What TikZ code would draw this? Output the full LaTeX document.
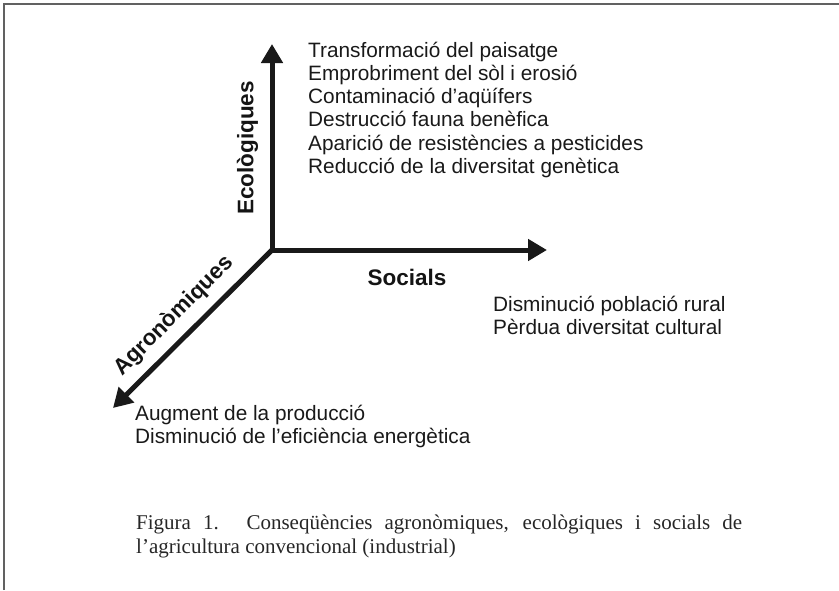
\documentclass[tikz,border=0pt]{standalone}
\usepackage{fontspec}
\setmainfont{Liberation Serif}
\newfontfamily\arialfont{Liberation Sans}
\usetikzlibrary{arrows.meta}
\begin{document}
\begin{tikzpicture}[x=1pt,y=-1pt,
  axisline/.style={line width=5pt, line cap=rect, draw=black!90, -{Triangle[length=19pt,width=21pt]}},
  axislabel/.style={font=\arialfont\fontsize{22.5}{26}\selectfont\bfseries, inner sep=0pt, text=black!92},
  itemline/.style={font=\arialfont\fontsize{20.8}{23.3}\selectfont, inner sep=0pt, anchor=base west, text=black!90},
  captionline/.style={font=\fontsize{21}{24}\selectfont, inner sep=0pt, anchor=base west, text=black!85},
  frameline/.style={line width=1.5pt, draw=black!62}]
\useasboundingbox (0,0) rectangle (839,590);
% frame (top and left edges)
\coordinate (fbl) at (4,590);
\coordinate (ftl) at (4,4);
\coordinate (ftr) at (839,4);
\draw[frameline] (fbl) -- (ftl) -- (ftr);
% axes
\coordinate (O) at (272,250);
\coordinate (up) at (272,44);
\coordinate (right) at (547,250);
\coordinate (down) at (113,408);
\draw[axisline] (O) -- (up);
\draw[axisline] (O) -- (right);
\draw[axisline] (O) -- (down);
% axis labels
\node[axislabel, rotate=90] (eco) at (247.5,148) {Ecològiques};
\node[axislabel] (soc) at (407,277) {Socials};
\node[axislabel, rotate=45] (agro) at (174,316) {Agronòmiques};
% ecological consequences
\node[itemline] (eco1) at (308,57) {Transformació del paisatge};
\node[itemline] (eco2) at (308,80.3) {Emprobriment del sòl i erosió};
\node[itemline] (eco3) at (308,103.6) {Contaminació d’aqüífers};
\node[itemline] (eco4) at (308,126.9) {Destrucció fauna benèfica};
\node[itemline] (eco5) at (308,150.2) {Aparició de resistències a pesticides};
\node[itemline] (eco6) at (308,173.5) {Reducció de la diversitat genètica};
% social consequences
\node[itemline] (soc1) at (493,311.5) {Disminució població rural};
\node[itemline] (soc2) at (493,334) {Pèrdua diversitat cultural};
% agronomic consequences
\node[itemline] (agro1) at (135,420) {Augment de la producció};
\node[itemline] (agro2) at (135,443) {Disminució de l’eficiència energètica};
% caption
\node[captionline] (cap1) at (136,529) {\makebox[606pt][s]{Figura 1. Conseqüències agronòmiques, ecològiques i socials de}};
\node[captionline] (cap2) at (136,553) {l’agricultura convencional (industrial)};
\end{tikzpicture}
\end{document}
